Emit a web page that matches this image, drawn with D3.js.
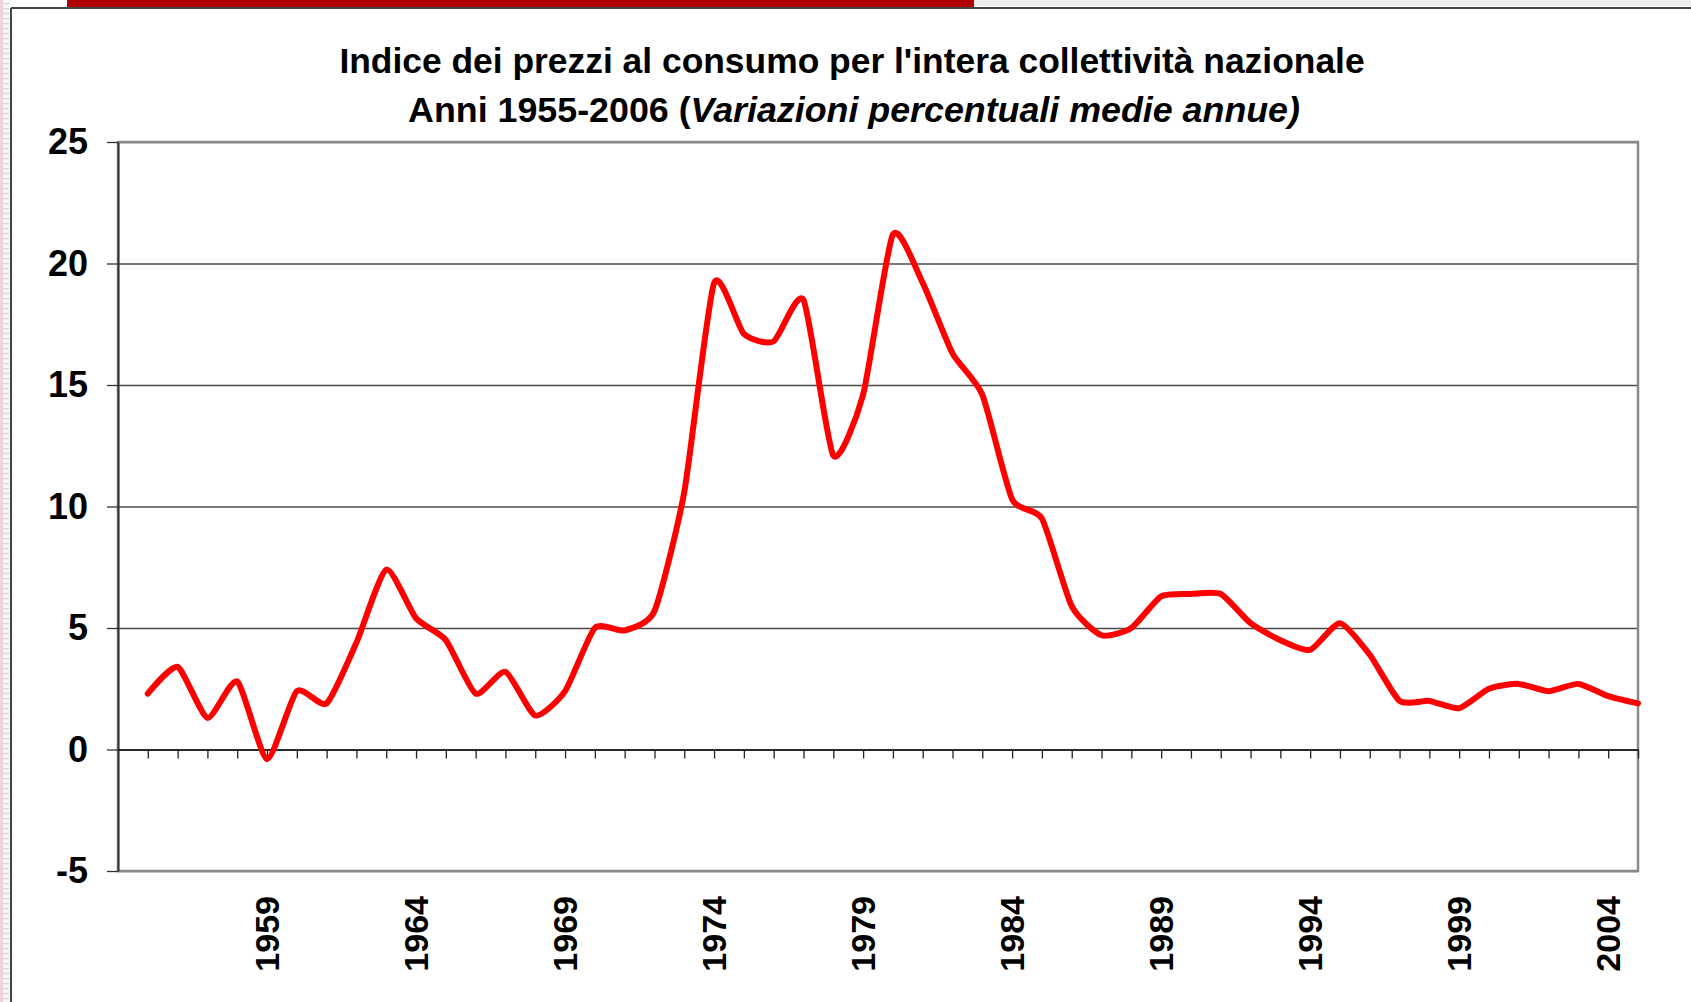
<!DOCTYPE html>
<html>
<head>
<meta charset="utf-8">
<script src="https://cdn.jsdelivr.net/npm/d3@7.9.0/dist/d3.min.js"></script>
<style>
  html, body { margin: 0; padding: 0; background: #fff; }
  svg { display: block; font-family: "Liberation Sans", Arial, sans-serif; }
</style>
</head>
<body>
<svg id="chart" width="1691" height="1002"></svg>
<script>
// yearly average % change of the consumer price index
const years = d3.range(1955, 2006);
const values = [
  2.3, 3.4, 1.3, 2.8, -0.4, 2.4, 1.9, 4.4, 7.4, 5.4,
  4.5, 2.3, 3.2, 1.4, 2.4, 5.0, 4.9, 5.7, 10.6, 19.2,
  17.1, 16.8, 18.5, 12.1, 14.6, 21.2, 19.2, 16.3, 14.6, 10.3,
  9.5, 5.9, 4.7, 5.0, 6.3, 6.4, 6.4, 5.2, 4.5, 4.1,
  5.2, 3.9, 2.0, 2.0, 1.7, 2.5, 2.7, 2.4, 2.7, 2.2,
  1.9
];
const yTicks = [-5, 0, 5, 10, 15, 20, 25];
const xLabels = [1959, 1964, 1969, 1974, 1979, 1984, 1989, 1994, 1999, 2004];

const titleLine1 = "Indice dei prezzi al consumo per l'intera collettività nazionale";
const titleLine2a = "Anni 1955-2006 (";
const titleLine2b = "Variazioni percentuali medie annue)";

const svg = d3.select('#chart');

// slide decorations: red bar on top, frame lines, striped left edge
const pat = svg.append('defs').append('pattern')
  .attr('id', 'stripes').attr('width', 10).attr('height', 5)
  .attr('patternUnits', 'userSpaceOnUse');
pat.append('rect').attr('width', 10).attr('height', 5).attr('fill', '#f6f6f6');
pat.append('rect').attr('width', 3).attr('height', 5).attr('fill', '#efd3d8');
pat.append('rect').attr('x', 3).attr('y', 3).attr('width', 6).attr('height', 1.2).attr('fill', '#d8d8d8');
svg.append('rect').attr('x', 0).attr('y', 0).attr('width', 10).attr('height', 1002).attr('fill', 'url(#stripes)');
svg.append('rect').attr('x', 974).attr('y', 0).attr('width', 717).attr('height', 6).attr('fill', '#ececec');
svg.append('rect').attr('x', 67).attr('y', 0).attr('width', 907).attr('height', 8).attr('fill', '#b00000');
svg.append('line').attr('x1', 11).attr('x2', 1691).attr('y1', 8).attr('y2', 8)
  .attr('stroke', '#444').attr('stroke-width', 2);
svg.append('line').attr('x1', 11).attr('x2', 11).attr('y1', 8).attr('y2', 1002)
  .attr('stroke', '#444').attr('stroke-width', 2);

const margin = { left: 118, right: 1638, top: 142, bottom: 871 };

const x = d3.scaleLinear().domain([1954, 2005]).range([margin.left, margin.right]);
const y = d3.scaleLinear().domain([-5, 25]).range([margin.bottom, margin.top]);

// gridlines
svg.append('g')
  .attr('transform', `translate(${margin.left},0)`)
  .call(d3.axisLeft(y).tickValues(yTicks).tickSize(-(margin.right - margin.left)).tickFormat(''))
  .call(g => g.select('.domain').remove())
  .call(g => g.selectAll('line').attr('stroke', '#4a4a4a').attr('stroke-width', 1.3));

// plot area border
svg.append('rect')
  .attr('x', margin.left).attr('y', margin.top)
  .attr('width', margin.right - margin.left).attr('height', margin.bottom - margin.top)
  .attr('fill', 'none').attr('stroke', '#8a8a8a').attr('stroke-width', 2.5);

// y axis
svg.append('g')
  .attr('transform', `translate(${margin.left},0)`)
  .call(d3.axisLeft(y).tickValues(yTicks).tickSize(11).tickSizeOuter(0).tickPadding(19)
    .tickFormat(d => String(d)))
  .call(g => g.select('.domain').attr('stroke', '#333').attr('stroke-width', 2))
  .call(g => g.selectAll('line').attr('stroke', '#333').attr('stroke-width', 1.3))
  .call(g => g.selectAll('text')
    .attr('font-family', '"Liberation Sans", Arial, sans-serif')
    .attr('font-size', 36).attr('font-weight', 'bold').attr('fill', '#000'));

// x axis on zero line with yearly tick marks
svg.append('g')
  .attr('transform', `translate(0,${y(0)})`)
  .call(d3.axisBottom(x).tickValues(years).tickSize(9).tickSizeOuter(0).tickFormat(''))
  .call(g => g.select('.domain').attr('stroke', '#111').attr('stroke-width', 1.5))
  .call(g => g.selectAll('line').attr('stroke', '#222').attr('stroke-width', 1.3));

// rotated year labels
svg.append('g').selectAll('text')
  .data(xLabels)
  .join('text')
  .attr('transform', d => `translate(${x(d)},${896}) rotate(-90)`)
  .attr('text-anchor', 'end')
  .attr('dy', '0.36em')
  .attr('font-size', 34).attr('font-weight', 'bold').attr('fill', '#000')
  .text(d => d);

// series (smoothed, like the spreadsheet line)
const line = d3.line()
  .x((d, i) => x(years[i]))
  .y(d => y(d))
  .curve(d3.curveCardinal.tension(0.4));

svg.append('path')
  .datum(values)
  .attr('d', line)
  .attr('fill', 'none')
  .attr('stroke', '#ff0000')
  .attr('stroke-width', 6)
  .attr('stroke-linejoin', 'round')
  .attr('stroke-linecap', 'round');

// title
const title = svg.append('g').attr('font-weight', 'bold').attr('fill', '#000')
  .attr('text-anchor', 'middle');
title.append('text').attr('x', 852).attr('y', 73).attr('font-size', 35.4).text(titleLine1);
const t2 = title.append('text').attr('x', 854).attr('y', 122).attr('font-size', 35.8);
t2.append('tspan').text(titleLine2a);
t2.append('tspan').attr('font-style', 'italic').text(titleLine2b);
</script>
</body>
</html>
